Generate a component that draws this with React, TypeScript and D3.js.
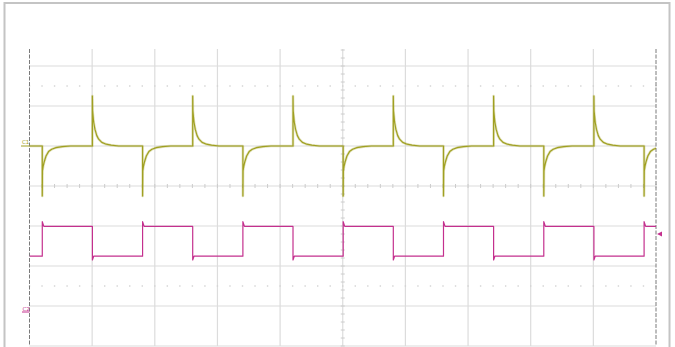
import React from "react";
import * as d3 from "d3";

// Horizontal (time) and vertical (level) are in graticule divisions.
const xDivs = [0, 1, 2, 3, 4, 5, 6, 7, 8, 9, 10];
const yDivs = [-4, -3, -2, -1, 0, 1, 2, 3, 4];
const dottedRows = [2.5, -2.5];

// C1: edges (div) and the decay shapes
const c1Base = 1.0;
const c1NegEdges = [0.204, 1.805, 3.406, 5.007, 6.608, 8.209, 9.81];
const c1PosEdges = [1.004, 2.605, 4.206, 5.807, 7.408, 9.009];
const posShapeDt = [0, 0.003, 0.02, 0.04, 0.07, 0.1, 0.15, 0.22, 0.3, 0.42];
const posShapeV = [1.25, 0.88, 0.6, 0.42, 0.26, 0.17, 0.09, 0.045, 0.02, 0];
const negShapeDt = [0, 0.003, 0.015, 0.03, 0.06, 0.1, 0.15, 0.22, 0.32, 0.45];
const negShapeV = [-1.25, -0.62, -0.5, -0.4, -0.25, -0.14, -0.08, -0.04, -0.015, 0];

// C2: square wave levels and edges
const c2High = -1.01;
const c2Low = -1.755;
const c2Overshoot = -0.89;
const c2Undershoot = -1.85;
const c2RiseEdges = [0.204, 1.805, 3.406, 5.007, 6.608, 8.209, 9.81];
const c2FallEdges = [1.004, 2.605, 4.206, 5.807, 7.408, 9.009];

const c1Marker = 1.0;
const c2Marker = -3.15;
const trigLevel = -1.2;

const W = 675;
const H = 347;
const L = 29.5;
const R = 656;
const TOP = 49;
const BOT = 346;

const C1 = "#a0a022";
const C2 = "#c4308e";

export default function App() {
  const x = d3.scaleLinear().domain([0, 10]).range([L, R]);
  const y = d3.scaleLinear().domain([-4, 4]).range([346, 26]);

  type P = [number, number];
  const events: { t: number; type: "pos" | "neg" }[] = [
    ...c1PosEdges.map((t) => ({ t, type: "pos" as const })),
    ...c1NegEdges.map((t) => ({ t, type: "neg" as const })),
  ].sort((a, b) => a.t - b.t);
  const c1: P[] = [[0, c1Base]];
  events.forEach((e) => {
    c1.push([e.t, c1Base]);
    const dts = e.type === "pos" ? posShapeDt : negShapeDt;
    const vs = e.type === "pos" ? posShapeV : negShapeV;
    dts.forEach((dt, i) => c1.push([e.t + dt, c1Base + vs[i]]));
  });
  c1.push([10.2, c1Base]);

  const c2Events = [
    ...c2RiseEdges.map((t) => ({ t, up: true })),
    ...c2FallEdges.map((t) => ({ t, up: false })),
  ].sort((a, b) => a.t - b.t);
  const c2: P[] = [[0, c2Low]];
  c2Events.forEach((e) => {
    if (e.up) {
      c2.push([e.t, c2Low], [e.t, c2Overshoot], [e.t + 0.025, c2High]);
    } else {
      c2.push([e.t, c2High], [e.t, c2Undershoot], [e.t + 0.02, c2Low]);
    }
  });
  c2.push([10.2, c2High]);

  const line = d3
    .line<P>()
    .x((d) => x(d[0]))
    .y((d) => y(d[1]));

  const minorTicks = d3.range(0, 50.001, 1).map((k) => k * 0.2);
  const vMinor = d3.range(-20, 20.001, 1).map((k) => k * 0.2).filter((v) => y(v) >= TOP);

  return (
    <svg
      width={W}
      height={H}
      style={{ position: "absolute", left: 0, top: 0, background: "#fff" }}
      fontFamily="DejaVu Sans, sans-serif"
    >
      <defs>
        <clipPath id="plot">
          <rect x={L} y={TOP} width={R - L} height={BOT - TOP + 1} />
        </clipPath>
      </defs>
      <rect x={4.5} y={3} width={665} height={350} fill="#fff" stroke="#c4c4c4" strokeWidth={2} />

      {xDivs.slice(1, -1).map((d) => (
        <line key={"v" + d} x1={x(d)} x2={x(d)} y1={TOP} y2={BOT} stroke="#dcdcdc" strokeWidth={1.2} />
      ))}
      {yDivs
        .filter((d) => y(d) >= TOP)
        .map((d) => (
          <line key={"h" + d} x1={L} x2={R} y1={y(d)} y2={y(d)} stroke="#dcdcdc" strokeWidth={1.2} />
        ))}
      {dottedRows.map((r) =>
        minorTicks.map((t) => (
          <rect key={"dr" + r + "_" + t} x={x(t) - 0.7} y={y(r) - 0.7} width={1.4} height={1.4} fill="#d2d2d2" />
        ))
      )}
      {minorTicks.map((t) => (
        <line key={"ct" + t} x1={x(t)} x2={x(t)} y1={y(0) - 2} y2={y(0) + 2} stroke="#cccccc" strokeWidth={1} />
      ))}
      {vMinor.map((v) => (
        <line key={"cv" + v} x1={x(5) - 2} x2={x(5) + 2} y1={y(v)} y2={y(v)} stroke="#cccccc" strokeWidth={1} />
      ))}

      <line x1={L} x2={L} y1={TOP} y2={BOT} stroke="#7a7a7a" strokeWidth={1} strokeDasharray="4,1.5" />
      <line x1={R} x2={R} y1={TOP} y2={BOT} stroke="#7a7a7a" strokeWidth={1} strokeDasharray="4,1.5" />

      <g clipPath="url(#plot)">
        <path d={line(c2) || ""} fill="none" stroke={C2} strokeWidth={1.2} strokeLinejoin="round" />
        <path d={line(c1) || ""} fill="none" stroke={C1} strokeOpacity={0.3} strokeWidth={2.6} strokeLinejoin="round" />
        <path d={line(c1) || ""} fill="none" stroke={C1} strokeWidth={1.2} strokeLinejoin="round" />
      </g>

      <text x={22} y={y(c1Marker) - 2.5} fontSize={5.5} fill={C1}>C1</text>
      <line x1={21} x2={L} y1={y(c1Marker)} y2={y(c1Marker)} stroke={C1} strokeWidth={1} />
      <text x={22.5} y={y(c2Marker) - 1} fontSize={5.5} fill={C2}>C2</text>
      <line x1={22} x2={L} y1={y(c2Marker)} y2={y(c2Marker)} stroke={C2} strokeWidth={1} />
      <path
        d={`M${R + 1},${y(trigLevel)} L${R + 6},${y(trigLevel) - 2.5} L${R + 6},${y(trigLevel) + 2.5} Z`}
        fill={C2}
      />
    </svg>
  );
}
